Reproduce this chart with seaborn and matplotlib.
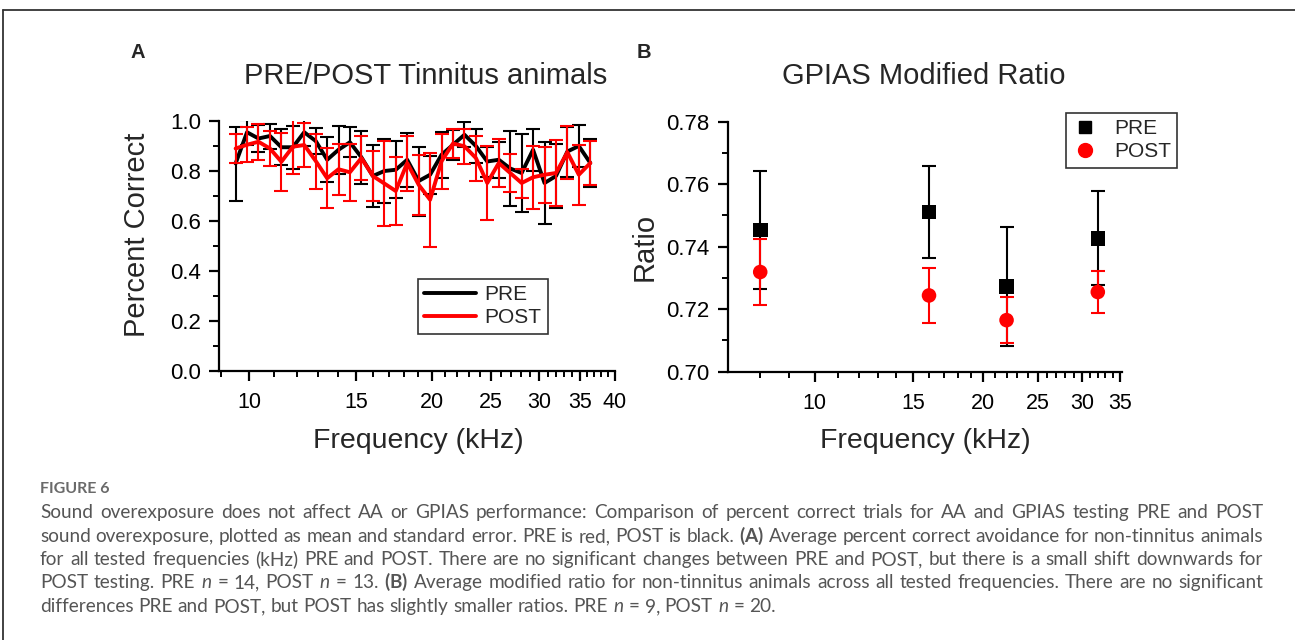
import numpy as np
import pandas as pd
import matplotlib
matplotlib.use("Agg")
import matplotlib.pyplot as plt
import seaborn as sns
from matplotlib.ticker import FixedLocator, NullFormatter, MultipleLocator, FormatStrFormatter, FixedFormatter
from matplotlib.lines import Line2D

# ---------------- data ----------------
freq_a = [9.51, 9.93, 10.37, 10.83, 11.31, 11.81, 12.33, 12.88, 13.45, 14.04,
          14.66, 15.31, 15.99, 16.70, 17.44, 18.21, 19.02, 19.86, 20.74, 21.66,
          22.62, 23.62, 24.66, 25.76, 26.90, 28.09, 29.33, 30.63, 31.99, 33.40,
          34.88, 36.43]
pre_a = [0.83, 0.955, 0.93, 0.94, 0.895, 0.895, 0.955, 0.92, 0.845, 0.885,
         0.915, 0.855, 0.78, 0.80, 0.805, 0.845, 0.76, 0.785, 0.865, 0.905,
         0.945, 0.90, 0.838, 0.845, 0.81, 0.792, 0.885, 0.752, 0.78, 0.878,
         0.90, 0.832]
pre_a_se = [0.148, 0.05, 0.055, 0.05, 0.073, 0.085, 0.053, 0.05, 0.09, 0.097,
            0.06, 0.107, 0.125, 0.127, 0.115, 0.107, 0.138, 0.077, 0.091, 0.06,
            0.05, 0.07, 0.06, 0.073, 0.15, 0.155, 0.083, 0.163, 0.128, 0.10,
            0.083, 0.097]
post_a = [0.89, 0.905, 0.917, 0.89, 0.837, 0.897, 0.904, 0.84, 0.771, 0.807,
          0.795, 0.852, 0.78, 0.75, 0.72, 0.832, 0.745, 0.685, 0.839, 0.91,
          0.899, 0.852, 0.752, 0.832, 0.792, 0.752, 0.775, 0.785, 0.792, 0.875,
          0.785, 0.832]
post_a_se = [0.06, 0.07, 0.073, 0.07, 0.115, 0.11, 0.087, 0.11, 0.12, 0.103,
             0.115, 0.087, 0.10, 0.17, 0.135, 0.11, 0.12, 0.187, 0.11, 0.06,
             0.07, 0.09, 0.147, 0.097, 0.077, 0.058, 0.127, 0.113, 0.133, 0.107,
             0.12, 0.087]

freq_b = [8, 16, 22, 32]
pre_b = [0.7453, 0.7511, 0.7272, 0.7427]
pre_b_se = [0.0188, 0.0147, 0.019, 0.015]
post_b = [0.7319, 0.7244, 0.7165, 0.7255]
post_b_se = [0.0106, 0.0088, 0.0074, 0.0066]

xticks_a = [10, 15, 20, 25, 30, 35, 40]
xticks_b = [10, 15, 20, 25, 30, 35]

caption = [
    "Sound overexposure does not affect AA or GPIAS performance: Comparison of percent correct trials for AA and GPIAS testing PRE and POST",
    r"sound overexposure, plotted as mean and standard error. PRE is red, POST is black. $\mathbf{(A)}$ Average percent correct avoidance for non-tinnitus animals",
    "for all tested frequencies (kHz) PRE and POST. There are no significant changes between PRE and POST, but there is a small shift downwards for",
    r"POST testing. PRE $\mathit{n}$ = 14, POST $\mathit{n}$ = 13. $\mathbf{(B)}$ Average modified ratio for non-tinnitus animals across all tested frequencies. There are no significant",
    r"differences PRE and POST, but POST has slightly smaller ratios. PRE $\mathit{n}$ = 9, POST $\mathit{n}$ = 20.",
]

# ---------------- style ----------------
sns.set_style("ticks")
plt.rcParams["font.family"] = ["Liberation Sans", "DejaVu Sans"]
plt.rcParams["mathtext.fontset"] = "custom"
plt.rcParams["mathtext.rm"] = "Lato"
plt.rcParams["mathtext.it"] = "Lato:italic"
plt.rcParams["mathtext.bf"] = "Lato:bold"

W, H = 1295, 640
fig = plt.figure(figsize=(W / 100, H / 100), dpi=100)
fig.patch.set_facecolor("white")

def fx(x):
    return x / W

def fy(y):
    return 1 - y / H

def style_axes(ax):
    for s in ["top", "right"]:
        ax.spines[s].set_visible(False)
    for s in ["left", "bottom"]:
        ax.spines[s].set_linewidth(1.6)
        ax.spines[s].set_color("black")
    ax.tick_params(which="major", direction="out", length=7, width=1.6,
                   colors="black", pad=6)
    ax.tick_params(which="minor", direction="out", length=4, width=1.4, colors="black")
    ax.tick_params(axis="x", which="major", labelsize=15.5, pad=8)
    ax.tick_params(axis="y", which="major", labelsize=16)
    ax.set_xlabel("")
    ax.set_ylabel("")
    ax.grid(False)

# ---------------- panel A ----------------
axA = fig.add_axes([fx(219), fy(371), fx(615) - fx(219), fy(121) - fy(371)])
axA.set_xscale("log")
dfA = pd.DataFrame({"freq": freq_a * 2, "val": pre_a + post_a,
                    "grp": ["PRE"] * len(freq_a) + ["POST"] * len(freq_a)})
axA.errorbar(freq_a, pre_a, yerr=pre_a_se, fmt="none", ecolor="black",
             elinewidth=1.5, capsize=5, capthick=1.5, zorder=2)
sns.lineplot(data=dfA, x="freq", y="val", hue="grp", palette={"PRE": "black", "POST": "red"},
             hue_order=["PRE", "POST"], estimator=None, linewidth=2.8, ax=axA, legend=False, zorder=3)
axA.errorbar(freq_a, post_a, yerr=post_a_se, fmt="none", ecolor="red",
             elinewidth=1.5, capsize=5, capthick=1.5, zorder=4)
for ln in axA.lines:
    if matplotlib.colors.to_hex(ln.get_color()) == "#ff0000":
        ln.set_zorder(5)
axA.set_xlim(8.93, 40)
axA.set_ylim(0, 1.0)
axA.xaxis.set_major_locator(FixedLocator(xticks_a))
axA.xaxis.set_major_formatter(FixedFormatter([str(t) for t in xticks_a]))
axA.xaxis.set_minor_locator(FixedLocator([f for f in range(9, 40) if f not in xticks_a]))
axA.xaxis.set_minor_formatter(NullFormatter())
axA.yaxis.set_major_locator(MultipleLocator(0.2))
axA.yaxis.set_minor_locator(MultipleLocator(0.1))
axA.yaxis.set_major_formatter(FormatStrFormatter("%.1f"))
style_axes(axA)
legA = axA.legend(handles=[Line2D([], [], color="black", lw=2.8, label="PRE"),
                           Line2D([], [], color="red", lw=2.8, label="POST")],
                  loc="upper left", bbox_to_anchor=((418 - 219) / 396, (371 - 279) / 250),
                  frameon=True, fancybox=False, fontsize=15, handlelength=2.5,
                  borderpad=0.3, labelspacing=0.2, handletextpad=0.4, borderaxespad=0)
legA.get_frame().set_edgecolor("black")
legA.get_frame().set_linewidth(1.2)

# ---------------- panel B ----------------
axB = fig.add_axes([fx(727.7), fy(371.7), fx(1121.7) - fx(727.7), fy(121.7) - fy(371.7)])
axB.set_xscale("log")
axB.errorbar(freq_b, pre_b, yerr=pre_b_se, fmt="none", ecolor="black",
             elinewidth=1.5, capsize=5, capthick=1.5, zorder=2)
axB.errorbar(freq_b, post_b, yerr=post_b_se, fmt="none", ecolor="red",
             elinewidth=1.5, capsize=5, capthick=1.5, zorder=3)
dfB = pd.DataFrame({"freq": freq_b * 2, "val": pre_b + post_b,
                    "grp": ["PRE"] * 4 + ["POST"] * 4})
sns.scatterplot(data=dfB, x="freq", y="val", hue="grp", style="grp",
                palette={"PRE": "black", "POST": "red"}, markers={"PRE": "s", "POST": "o"},
                hue_order=["PRE", "POST"], s=110, edgecolor="none", ax=axB,
                legend=False, zorder=4)
axB.set_xlim(7, 35.3)
axB.set_ylim(0.70, 0.78)
axB.xaxis.set_major_locator(FixedLocator(xticks_b))
axB.xaxis.set_major_formatter(FixedFormatter([str(t) for t in xticks_b]))
axB.xaxis.set_minor_locator(FixedLocator([f for f in range(8, 35) if f not in xticks_b]))
axB.xaxis.set_minor_formatter(NullFormatter())
axB.yaxis.set_major_locator(MultipleLocator(0.02))
axB.yaxis.set_minor_locator(MultipleLocator(0.01))
axB.yaxis.set_major_formatter(FormatStrFormatter("%.2f"))
style_axes(axB)
legB = axB.legend(handles=[Line2D([], [], color="black", marker="s", ls="none", ms=8.5, label="PRE"),
                           Line2D([], [], color="red", marker="o", ls="none", ms=10, label="POST")],
                  loc="upper right", bbox_to_anchor=((1177 - 727.7) / 394, (371.7 - 113) / 250),
                  frameon=True, fancybox=False, fontsize=15, handlelength=1.2,
                  borderpad=0.3, labelspacing=0.2, handletextpad=0.8, borderaxespad=0)
legB.get_frame().set_edgecolor("black")
legB.get_frame().set_linewidth(1.2)

# ---------------- texts ----------------
fig.text(fx(138), fy(52), "A", fontsize=14.5, fontweight="bold", ha="center", va="center")
fig.text(fx(644), fy(52), "B", fontsize=14.5, fontweight="bold", ha="center", va="center")
fig.text(fx(426), fy(76), "PRE/POST Tinnitus animals", fontsize=21, ha="center", va="center")
fig.text(fx(924), fy(76), "GPIAS Modified Ratio", fontsize=21, ha="center", va="center")
fig.text(fx(137), fy(235), "Percent Correct", fontsize=21, rotation=90, ha="center", va="center")
fig.text(fx(645), fy(247), "Ratio", fontsize=21, rotation=90, ha="center", va="center")
fig.text(fx(418), fy(441), "Frequency (kHz)", fontsize=20.5, ha="center", va="center")
fig.text(fx(925), fy(441), "Frequency (kHz)", fontsize=20.5, ha="center", va="center")

fig.text(fx(40), fy(493), "FIGURE 6", fontsize=11.5, family="Lato", fontweight="bold",
         color="#6a6a6a", ha="left", va="baseline")

# justified caption, laid out word by word
renderer = fig.canvas.get_renderer()
left_px, right_px = 40.0, 1263.0
target = right_px - left_px
base_fs = 12.0

def measure(s, fs):
    t = fig.text(0, 0, s, fontsize=fs, family="Lato")
    w = t.get_window_extent(renderer).width
    t.remove()
    return w

space0 = measure("a a", base_fs) - measure("aa", base_fs)
nat = []
for line in caption:
    words = line.split(" ")
    nat.append(sum(measure(w, base_fs) for w in words) + space0 * (len(words) - 1))
fs = base_fs * target / max(nat) * 0.995
space = space0 * fs / base_fs

ys = [518, 542, 565, 588, 612]   # baselines
for li, (line, yy) in enumerate(zip(caption, ys)):
    words = line.split(" ")
    texts = [fig.text(0, fy(yy), w, fontsize=fs, family="Lato", color="#555555",
                      ha="left", va="baseline") for w in words]
    widths = [t.get_window_extent(renderer).width for t in texts]
    if li < len(caption) - 1 and len(words) > 1:
        gap = (target - sum(widths)) / (len(words) - 1)
    else:
        gap = space
    x = left_px
    for t, w in zip(texts, widths):
        t.set_x(fx(x))
        x += w + gap

# frame
fig.add_artist(Line2D([fx(3), fx(3)], [fy(10), 0], color="#333333", lw=1.3))
fig.add_artist(Line2D([fx(3), 1], [fy(10), fy(10)], color="#333333", lw=1.3))

fig.savefig("out.png", dpi=100, facecolor="white")
